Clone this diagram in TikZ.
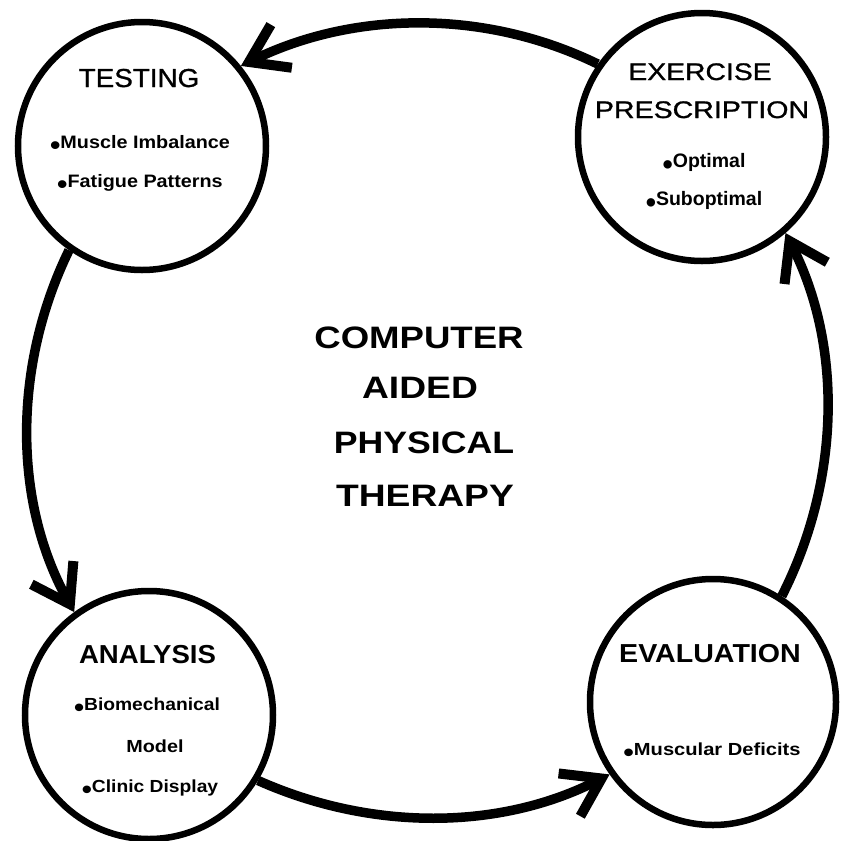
\documentclass[tikz,border=0pt]{standalone}
\usepackage{fontspec}
\usepackage{graphicx}
\setmainfont{Liberation Sans}
% a slightly heavier regular face for the plain headings
\newfontfamily\medfont[FakeBold=1]{Liberation Sans}
\usetikzlibrary{arrows.meta}
% horizontally widened text
\newcommand{\wide}[2]{\scalebox{#1}[1]{#2}}
% low, heavy bullet in front of list items
\newcommand{\bul}{\raisebox{-0.38em}{\scalebox{1.5}{\textbullet}}}
\begin{document}
\begin{tikzpicture}[x=1pt,y=-1pt,
  stage/.style={circle, draw, line width=6.5pt, minimum size=248pt, inner sep=0pt},
  flow/.style={line width=9.5pt, -{Straight Barb[length=36pt,width=48pt,line width=10pt,sharp]}},
  head/.style={anchor=base, inner sep=0pt, font=\medfont\fontsize{26}{26}\selectfont},
  boldhead/.style={anchor=base, inner sep=0pt, font=\bfseries\fontsize{26}{26}\selectfont},
  item/.style={anchor=base, inner sep=0pt, font=\bfseries\fontsize{18}{18}\selectfont},
  title/.style={anchor=base, inner sep=0pt, font=\bfseries\fontsize{31}{31}\selectfont}]
\useasboundingbox (0,0) rectangle (844,841);

% the four stages
\node[stage] (test) at (142,146) {};
\node[stage] (pres) at (702,137) {};
\node[stage] (ana)  at (149,715) {};
\node[stage, minimum size=246pt] (eval) at (713,702) {};

% stage labels
\node[head] (testT) at (139,87) {\wide{1.07}{TESTING}};
\node[item] (test1) at (140,148) {\wide{1.1}{\bul Muscle Imbalance}};
\node[item] (test2) at (140,187) {\wide{1.1}{\bul Fatigue Patterns}};

\node[head, font=\medfont\fontsize{24}{24}\selectfont] (presT1) at (700,80) {\wide{1.18}{EXERCISE}};
\node[head, font=\medfont\fontsize{24}{24}\selectfont] (presT2) at (702,118) {\wide{1.19}{PRESCRIPTION}};
\node[item, font=\bfseries\fontsize{19.5}{19.5}\selectfont] (pres1) at (704,167) {\bul Optimal};
\node[item, font=\bfseries\fontsize{19.5}{19.5}\selectfont] (pres2) at (704,205) {\bul Suboptimal};

\node[boldhead] (anaT) at (147.5,663) {\wide{1.06}{ANALYSIS}};
\node[item, font=\bfseries\fontsize{17.5}{17.5}\selectfont] (ana1) at (147,710) {\wide{1.1}{\bul Biomechanical}};
\node[item, font=\bfseries\fontsize{17.5}{17.5}\selectfont] (ana2) at (155,752) {\wide{1.13}{Model}};
\node[item, font=\bfseries\fontsize{17.5}{17.5}\selectfont] (ana3) at (150,792) {\wide{1.1}{\bul Clinic Display}};

\node[boldhead] (evalT) at (710,662) {\wide{1.1}{EVALUATION}};
\node[item, font=\bfseries\fontsize{17.5}{17.5}\selectfont] (eval1) at (712,755) {\wide{1.15}{\bul Muscular Deficits}};

% central title
\node[title] (c1) at (419,348) {\wide{1.18}{COMPUTER}};
\node[title] (c2) at (420,398) {\wide{1.2}{AIDED}};
\node[title] (c3) at (424,453) {\wide{1.15}{PHYSICAL}};
\node[title] (c4) at (425,506) {\wide{1.2}{THERAPY}};

% cycle connectors
\draw[flow] (pres.145) to[out=154, in=26, looseness=0.9] (test.39);
\draw[flow] (test.235) to[out=244, in=119, looseness=0.9] (ana.126);
\draw[flow] (ana.329) to[out=336, in=207, looseness=0.9] (eval.215);
\draw[flow] (eval.57) to[out=63, in=297, looseness=0.9] (pres.311);
\end{tikzpicture}
\end{document}
